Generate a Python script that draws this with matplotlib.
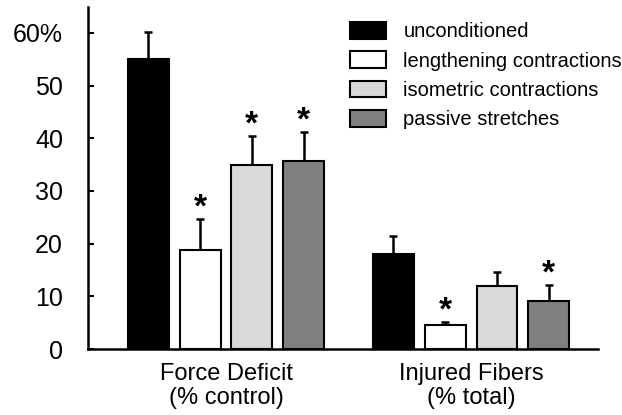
import numpy as np
import matplotlib
matplotlib.use("Agg")
import matplotlib.pyplot as plt

plt.rcParams["font.family"] = ["Liberation Sans", "DejaVu Sans"]

# data
groups = ["Force Deficit\n(% control)", "Injured Fibers\n(% total)"]
conditions = ["unconditioned", "lengthening contractions",
              "isometric contractions", "passive stretches"]
colors = ["#000000", "#ffffff", "#d9d9d9", "#808080"]

means = {
    "unconditioned":            [55.0, 18.1],
    "lengthening contractions": [18.8, 4.5],
    "isometric contractions":   [34.9, 11.9],
    "passive stretches":        [35.6, 9.1],
}
sems = {
    "unconditioned":            [5.2, 3.3],
    "lengthening contractions": [5.8, 0.6],
    "isometric contractions":   [5.5, 2.8],
    "passive stretches":        [5.5, 3.1],
}
# significance stars (vs unconditioned)
signif = {
    "unconditioned":            [False, False],
    "lengthening contractions": [True, True],
    "isometric contractions":   [True, False],
    "passive stretches":        [True, True],
}
yticks = [0, 10, 20, 30, 40, 50, 60]
ytick_labels = ["0", "10", "20", "30", "40", "50", "60%"]

GROUP_GAP = 4.73
BAR_W = 0.79
STAR_GAP = 0.5

fig = plt.figure(figsize=(6.22, 4.15), dpi=100)
ax = fig.add_axes([88 / 622, 1 - 349 / 415, (598 - 88) / 622, (349 - 7) / 415])

group_x = np.arange(len(groups)) * GROUP_GAP
for i, cond in enumerate(conditions):
    x = group_x + i
    ax.bar(x, means[cond], width=BAR_W, color=colors[i], edgecolor="black",
           linewidth=1.5, label=cond, zorder=2)
    ax.errorbar(x, means[cond], yerr=[np.zeros(len(groups)), sems[cond]],
                fmt="none", ecolor="black", elinewidth=1.8, capsize=3,
                capthick=1.8, zorder=1)
    for xi, m, s, sig in zip(x, means[cond], sems[cond], signif[cond]):
        if sig:
            ax.text(xi, m + s + STAR_GAP, "*", ha="center", va="baseline",
                    fontsize=24, fontweight="bold")

ax.set_xlim(-1.164, 8.68)
ax.set_ylim(0, 64.9)
ax.set_yticks(yticks)
ax.set_yticklabels(ytick_labels, fontsize=18)
ax.tick_params(axis="y", direction="in", length=4, width=1.5, pad=18)
ax.set_xticks(group_x + 1.5)
ax.set_xticklabels(groups, fontsize=17, linespacing=1.15)
ax.tick_params(axis="x", length=0, pad=10)

for side in ["top", "right"]:
    ax.spines[side].set_visible(False)
for side in ["left", "bottom"]:
    ax.spines[side].set_linewidth(1.8)

ax.legend(loc="upper left", bbox_to_anchor=(350 / 622, 1 - 22 / 415),
          bbox_transform=fig.transFigure, frameon=False, fontsize=14.5,
          handlelength=1.8, handleheight=0.9, handletextpad=0.85,
          labelspacing=0.5, borderpad=0, borderaxespad=0)

fig.savefig("out.png", dpi=100)
